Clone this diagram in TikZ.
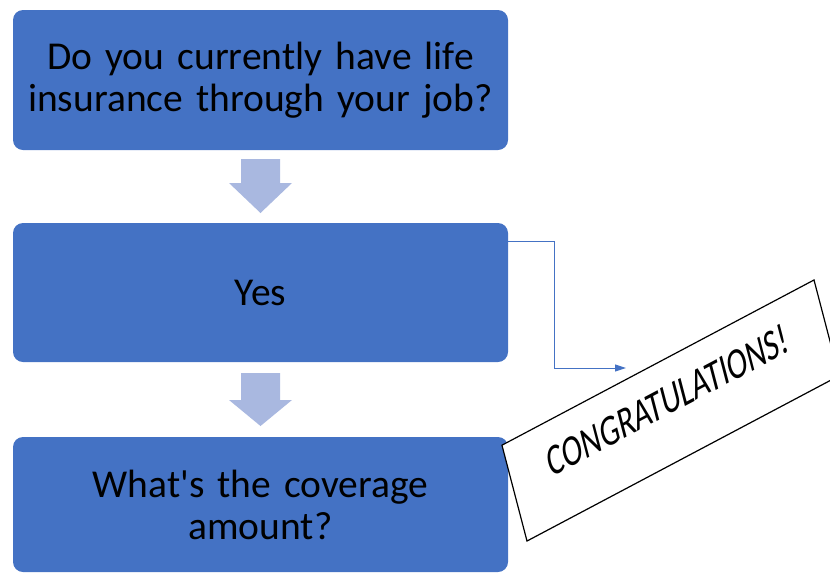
\documentclass[tikz,border=0pt]{standalone}
\usepackage{fontspec}
\setmainfont{Carlito}[Ligatures=TeXOff]
\usetikzlibrary{arrows.meta}
\definecolor{boxblue}{RGB}{68,114,196}
\definecolor{arrowblue}{RGB}{169,184,224}
\begin{document}
\begin{tikzpicture}[x=1pt,y=1pt,
  flowbox/.style={draw=none, fill=boxblue, rounded corners=10pt, minimum width=495pt,
    text width=485pt, align=center, font=\fontsize{39.5}{42}\selectfont, inner sep=0pt},
  blockarrow/.style={fill=arrowblue, draw=none},
  link/.style={draw=boxblue, line width=1pt, -{Triangle[length=11pt,width=7pt]}},
  banner/.style={draw=black, line width=1.2pt, fill=white, minimum width=353pt,
    minimum height=99pt, inner sep=0pt, transform shape},
  bannertext/.style={transform shape, inner sep=0pt, font=\fontsize{43}{48}\selectfont}]
\useasboundingbox (0,0) rectangle (830,-574);
\clip (0,0) rectangle (830,-574);
\node[flowbox, minimum height=140pt] (q1) at (260.5,-80) {Do you currently have life\\insurance through your job?};
\node[flowbox, minimum height=139pt] (yes) at (260.5,-292.5) {Yes};
\node[flowbox, minimum height=135pt] (q2) at (260.5,-504.5) {What's the coverage\\amount?};
% block arrows
\fill[blockarrow] (241,-159) -- (280,-159) -- (280,-183) -- (292,-183) -- (260.5,-213) -- (229,-183) -- (241,-183) -- cycle;
\fill[blockarrow] (241,-373) -- (280,-373) -- (280,-400) -- (292,-400) -- (260.5,-426) -- (229,-400) -- (241,-400) -- cycle;
% banner
\begin{scope}[cm={0.884,0.468,-0.253,0.968,(670.5,-410.5)}]
  \node[banner] (cong) at (0,0) {};
  \node[bannertext] (congtext) at (0,11) {\scalebox{0.75}[1]{CONGRATULATIONS!}};
\end{scope}
% connector
\coordinate (s) at ([yshift=51.5pt]yes.east);
\coordinate (cend) at (626,-368);
\draw[link] (s) -- ++(46,0) |- (cend);
\end{tikzpicture}
\end{document}
